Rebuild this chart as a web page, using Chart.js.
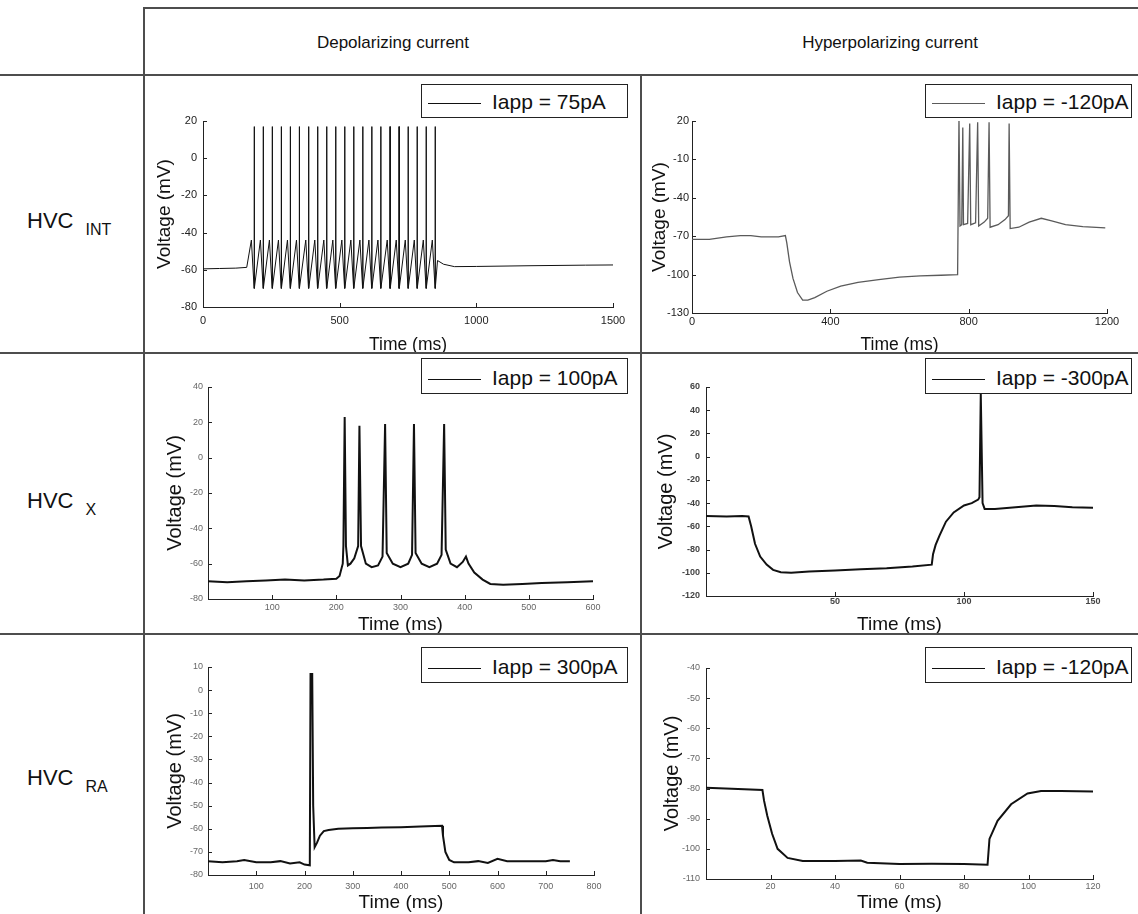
<!DOCTYPE html>
<html>
<head>
<meta charset="utf-8">
<title>HVC neuron responses</title>
<script src="https://cdn.jsdelivr.net/npm/chart.js@4.4.1/dist/chart.umd.min.js"></script>
<style>
  body { margin: 0; background: #fff; }
  #fig { position: relative; width: 1138px; height: 914px; overflow: hidden; background: #fff;
         font-family: "Liberation Sans", Arial, sans-serif; color: #111; }
  .hl { position: absolute; height: 2px; background: #4d4d4d; }
  .vl { position: absolute; width: 2px; background: #4d4d4d; }
  .head { position: absolute; top: 33px; width: 496px; text-align: center; font-size: 17px; line-height: 20px; }
  .rowlab { position: absolute; left: 27px; font-size: 22px; line-height: 22px; white-space: nowrap; }
  .rowlab span { font-size: 16px; position: relative; top: 7px; margin-left: 12px; }
  canvas { position: absolute; }
  .leg { position: absolute; width: 207px; box-sizing: border-box; border: 1px solid #222; background: #fff; z-index: 2; }
  .leg i { position: absolute; left: 6px; width: 53px; height: 1px; }
  .leg b { position: absolute; left: 70px; font-weight: normal; font-size: 21px; line-height: 21px; white-space: nowrap; }
</style>
</head>
<body>
<div id="fig">
  <div class="hl" style="left:144px;top:7px;width:994px"></div>
  <div class="hl" style="left:0;top:74px;width:1138px"></div>
  <div class="hl" style="left:0;top:352px;width:1138px"></div>
  <div class="hl" style="left:0;top:633px;width:1138px"></div>
  <div class="vl" style="left:143px;top:7px;height:907px"></div>
  <div class="vl" style="left:640px;top:74px;height:840px"></div>

  <div class="head" style="left:145px">Depolarizing current</div>
  <div class="head" style="left:642px">Hyperpolarizing current</div>

  <div class="rowlab" style="top:210px">HVC<span>INT</span></div>
  <div class="rowlab" style="top:490px">HVC<span>X</span></div>
  <div class="rowlab" style="top:767px">HVC<span>RA</span></div>
</div>

<script>
// ---- values: [time (ms), voltage (mV)] ----

// HVC INT, depolarizing
const intDepTrace = [
  [0,-59.5],[60,-59.3],[120,-59.1],[160,-58.7],
  [177,-44],[187,-70],[187.5,17],[188,-70],
  [210,-44],[220,-70],[220.5,17],[221,-70],
  [243,-44],[253,-70],[253.5,17],[254,-70],
  [276,-44],[286,-70],[286.5,17],[287,-70],
  [309,-44],[319,-70],[319.5,17],[320,-70],
  [342,-44],[352,-70],[352.5,17],[353,-70],
  [376,-44],[386,-70],[386.5,17],[387,-70],
  [409,-44],[419,-70],[419.5,17],[420,-70],
  [442,-44],[452,-70],[452.5,17],[453,-70],
  [475,-44],[485,-70],[485.5,17],[486,-70],
  [508,-44],[518,-70],[518.5,17],[519,-70],
  [541,-44],[551,-70],[551.5,17],[552,-70],
  [574,-44],[584,-70],[584.5,17],[585,-70],
  [607,-44],[617,-70],[617.5,17],[618,-70],
  [640,-44],[650,-70],[650.5,17],[651,-70],
  [674,-44],[684,-70],[684.5,17],[685,-70],
  [707,-44],[717,-70],[717.5,17],[718,-70],
  [740,-44],[750,-70],[750.5,17],[751,-70],
  [773,-44],[783,-70],[783.5,17],[784,-70],
  [806,-44],[816,-70],[816.5,17],[817,-70],
  [839,-44],[849,-70],[849.5,17],[850,-70],
  [858,-55],[880,-57],[920,-58.3],[1000,-58.2],[1200,-57.8],[1400,-57.5],[1500,-57.4]
];

// HVC INT, hyperpolarizing
const intHypTrace = [
  [0,-72.5],[50,-72.5],[100,-70.5],[140,-69.5],[170,-69.5],[200,-70.5],[250,-70.5],[270,-69.5],
  [274,-75],[282,-90],[292,-103],[305,-114],[320,-120],[335,-120],[355,-118],[390,-113],
  [430,-109],[480,-106],[540,-104],[600,-102],[660,-101],[720,-100.5],[768,-100],
  [772,22],[775,-62],[780,-61],[783,15],[785,-61],[797,-60],[803,18],[806,-61],
  [820,-59.5],[826,19],[829,-62],[845,-59],[855,-56],[859,19],[862,-63],[885,-61],
  [905,-57],[915,-54],[917,18],[920,-64],[945,-63],[975,-59],[1010,-56],[1040,-58],
  [1080,-61],[1130,-62.5],[1195,-63.5]
];

// HVC X, depolarizing
const xDepTrace = [
  [0,-70],[30,-70.5],[60,-70],[90,-69.5],[120,-69],[150,-69.5],[180,-69],[200,-68.5],[205,-67],
  [210,-60],[211,-50],[213,23],[215,-50],[218,-61],[222,-60],[228,-57],[234,-50],
  [236,18],[238.5,-50],[246,-60],[255,-62],[265,-61],[272,-56],
  [276,19],[278.5,-54],[288,-60],[300,-62],[312,-60],[318,-55],
  [321,19],[323.5,-54],[333,-60],[345,-62],[357,-60],[364,-55],
  [368,19],[370.5,-52],[378,-60],[388,-62],[397,-59],[402,-56],[406,-60],[415,-65],
  [428,-69],[440,-71.5],[460,-72],[490,-71.5],[520,-71],[560,-70.5],[600,-70]
];

// HVC X, hyperpolarizing
const xHypTrace = [
  [0,-51],[8,-51.5],[14,-51],[16.5,-51.5],[17.5,-60],[19,-75],[21,-86],[23.5,-93],[26,-97.5],
  [29,-99.5],[33,-100],[40,-99],[50,-98],[60,-97],[70,-96],[80,-94.5],[87.5,-93],
  [88,-84],[89,-76],[90.5,-68],[93,-56],[96,-48],[100,-42],[103,-40],[105.5,-37],[106,-35],
  [106.5,54],[107.2,-40],[108,-45],[112,-45],[120,-43.5],[128,-42],[135,-42.5],[142,-43.5],[150,-44]
];

// HVC RA, depolarizing
const raDepTrace = [
  [0,-74],[30,-74.5],[60,-74],[75,-73.5],[100,-74.5],[130,-74.5],[150,-74],[170,-75],[190,-74.5],
  [200,-75.5],[211,-75.8],[212.5,7],[216,7],[218,-50],[221,-68],[226,-66],[232,-63],[240,-61],
  [250,-60.5],[270,-60],[300,-59.8],[330,-59.7],[360,-59.5],[400,-59.3],[440,-59],[470,-58.8],
  [485,-58.7],[487,-63],[492,-70],[500,-73.5],[510,-74.5],[540,-74.5],[560,-74],[580,-74.8],
  [600,-73],[620,-74],[650,-74],[700,-74],[715,-73.5],[730,-74],[750,-74]
];

// HVC RA, hyperpolarizing
const raHypTrace = [
  [0,-79.7],[8,-80.1],[17.5,-80.5],[18,-84],[19,-89],[20.5,-95],[22.2,-100],[25.3,-103],[30,-104],
  [40,-104],[48,-103.9],[50,-104.6],[60,-105],[70,-104.9],[80,-105],[87.3,-105.3],
  [87.9,-96.7],[90.4,-90.7],[94.6,-85.2],[99.7,-81.6],[103.9,-80.8],[110,-80.8],[120,-81]
];

const legendLabels = ['Iapp = 75pA', 'Iapp = -120pA', 'Iapp = 100pA', 'Iapp = -300pA', 'Iapp = 300pA', 'Iapp = -120pA'];

// axis ranges and tick labels
const intDepX = [0, 500, 1000, 1500];
const intDepY = [-80, -60, -40, -20, 0, 20];
const intHypX = [0, 400, 800, 1200];
const intHypY = [-130, -100, -70, -40, -10, 20];
const xDepX = [100, 200, 300, 400, 500, 600];
const xDepY = [-80, -60, -40, -20, 0, 20, 40];
const xHypX = [50, 100, 150];
const xHypY = [-120, -100, -80, -60, -40, -20, 0, 20, 40, 60];
const raDepX = [100, 200, 300, 400, 500, 600, 700, 800];
const raDepY = [-80, -70, -60, -50, -40, -30, -20, -10, 0, 10];
const raHypX = [20, 40, 60, 80, 100, 120];
const raHypY = [-110, -100, -90, -80, -70, -60, -50, -40];

const FONT = '"Liberation Sans", Arial, sans-serif';
const fig = document.getElementById('fig');

// short tick marks drawn inside the axes, like the original plots
const innerTicks = {
  id: 'innerTicks',
  afterDraw(chart, args, opts) {
    const { ctx, chartArea, scales: { x, y } } = chart;
    ctx.save();
    ctx.strokeStyle = opts.color;
    ctx.lineWidth = 1;
    ctx.beginPath();
    x.ticks.forEach(t => {
      const px = Math.round(x.getPixelForValue(t.value)) + 0.5;
      ctx.moveTo(px, chartArea.bottom);
      ctx.lineTo(px, chartArea.bottom - opts.len);
    });
    y.ticks.forEach(t => {
      const py = Math.round(y.getPixelForValue(t.value)) + 0.5;
      ctx.moveTo(chartArea.left, py);
      ctx.lineTo(chartArea.left + opts.len, py);
    });
    ctx.stroke();
    ctx.restore();
  }
};

function makePanel(p) {
  const [cx, cy, cw, ch] = p.box;
  const [aL, aT, aR, aB] = p.area;
  const cv = document.createElement('canvas');
  cv.width = cw;
  cv.height = ch;
  cv.style.left = cx + 'px';
  cv.style.top = cy + 'px';
  fig.appendChild(cv);

  const tickFont = { family: FONT, size: p.tickSize, weight: p.tickWeight || 'normal' };
  const chart = new Chart(cv, {
    type: 'line',
    data: {
      datasets: [{
        label: p.label,
        data: p.trace,
        borderColor: p.color,
        borderWidth: p.width,
        pointRadius: 0,
        tension: 0,
        fill: false
      }]
    },
    options: {
      responsive: false,
      animation: false,
      events: [],
      layout: { padding: { left: 0, top: aT, right: cw - aR, bottom: 0 } },
      plugins: {
        legend: { display: false },
        tooltip: { enabled: false },
        innerTicks: { len: 4, color: '#222' }
      },
      scales: {
        x: {
          type: 'linear', min: p.xRange[0], max: p.xRange[1],
          afterBuildTicks: s => { s.ticks = p.xTicks.map(v => ({ value: v })); },
          afterFit: s => { s.height = ch - aB; },
          grid: { display: false, drawTicks: false },
          border: { display: true, color: '#222', width: 1 },
          ticks: { font: tickFont, color: p.tickColor, padding: p.xPad, maxRotation: 0, autoSkip: false,
                   callback: v => String(v) },
          title: { display: true, text: 'Time (ms)', color: '#111',
                   font: { family: FONT, size: p.xTitleSize, lineHeight: 0.8 },
                   padding: { top: 0, bottom: p.xTitlePad } }
        },
        y: {
          type: 'linear', min: p.yRange[0], max: p.yRange[1],
          afterBuildTicks: s => { s.ticks = p.yTicks.map(v => ({ value: v })); },
          afterFit: s => { s.width = aL; },
          grid: { display: false, drawTicks: false },
          border: { display: true, color: '#222', width: 1 },
          ticks: { font: tickFont, color: p.tickColor, padding: p.yPad, autoSkip: false,
                   callback: v => String(v) },
          title: { display: true, text: 'Voltage (mV)', color: '#111',
                   font: { family: FONT, size: p.yTitleSize, lineHeight: 0.8 },
                   padding: { top: p.yTitlePad, bottom: 0 } }
        }
      }
    },
    plugins: [innerTicks]
  });

  // html legend box built from the dataset
  const [lx, ly, lh] = p.legend;
  const ds = chart.data.datasets[0];
  const leg = document.createElement('div');
  leg.className = 'leg';
  leg.style.left = lx + 'px';
  leg.style.top = ly + 'px';
  leg.style.height = lh + 'px';
  const sw = document.createElement('i');
  sw.style.top = (lh - 16) + 'px';
  sw.style.background = ds.borderColor;
  const tx = document.createElement('b');
  tx.style.top = (lh - 28) + 'px';
  tx.textContent = ds.label;
  leg.appendChild(sw);
  leg.appendChild(tx);
  fig.appendChild(leg);
}

const panels = [
  { trace: intDepTrace, label: legendLabels[0], xRange: [0, 1500], yRange: [-80, 20], xTicks: intDepX, yTicks: intDepY,
    box: [146, 77, 494, 275], area: [57, 44, 467, 230], legend: [421, 84, 34],
    color: '#111', width: 1, tickSize: 11, tickColor: '#222', xPad: 7, yPad: 6,
    xTitleSize: 17.5, xTitlePad: 0, yTitleSize: 19, yTitlePad: 11.4 },
  { trace: intHypTrace, label: legendLabels[1], xRange: [0, 1200], yRange: [-130, 20], xTicks: intHypX, yTicks: intHypY,
    box: [643, 77, 495, 275], area: [49, 44, 464, 236], legend: [925, 84, 34],
    color: '#5a5a5a', width: 1.3, tickSize: 11, tickColor: '#222', xPad: 2, yPad: 3,
    xTitleSize: 17.5, xTitlePad: 0, yTitleSize: 19, yTitlePad: 9.4 },
  { trace: xDepTrace, label: legendLabels[2], xRange: [0, 600], yRange: [-80, 40], xTicks: xDepX, yTicks: xDepY,
    box: [146, 355, 494, 278], area: [62, 32, 447, 244], legend: [421, 358, 36],
    color: '#111', width: 2, tickSize: 9, tickColor: '#666', xPad: 3, yPad: 5,
    xTitleSize: 19, xTitlePad: 0.4, yTitleSize: 20, yTitlePad: 21 },
  { trace: xHypTrace, label: legendLabels[3], xRange: [0, 150], yRange: [-120, 60], xTicks: xHypX, yTicks: xHypY,
    box: [643, 355, 495, 278], area: [63, 32, 450, 241], legend: [925, 358, 36],
    color: '#111', width: 2, tickSize: 9, tickWeight: 'bold', tickColor: '#444', xPad: 0, yPad: 6,
    xTitleSize: 19, xTitlePad: 0.4, yTitleSize: 20, yTitlePad: 15 },
  { trace: raDepTrace, label: legendLabels[4], xRange: [0, 800], yRange: [-80, 10], xTicks: raDepX, yTicks: raDepY,
    box: [146, 636, 494, 278], area: [62, 31, 448, 239], legend: [421, 647, 36],
    color: '#111', width: 2, tickSize: 9, tickColor: '#666', xPad: 6, yPad: 5,
    xTitleSize: 19, xTitlePad: 3.4, yTitleSize: 20, yTitlePad: 21 },
  { trace: raHypTrace, label: legendLabels[5], xRange: [0, 120], yRange: [-110, -40], xTicks: raHypX, yTicks: raHypY,
    box: [643, 636, 495, 278], area: [63, 32, 450, 243], legend: [925, 647, 36],
    color: '#111', width: 2, tickSize: 9, tickColor: '#666', xPad: 2, yPad: 6,
    xTitleSize: 19, xTitlePad: 3.4, yTitleSize: 20, yTitlePad: 21 }
];

panels.forEach(makePanel);
</script>
</body>
</html>
